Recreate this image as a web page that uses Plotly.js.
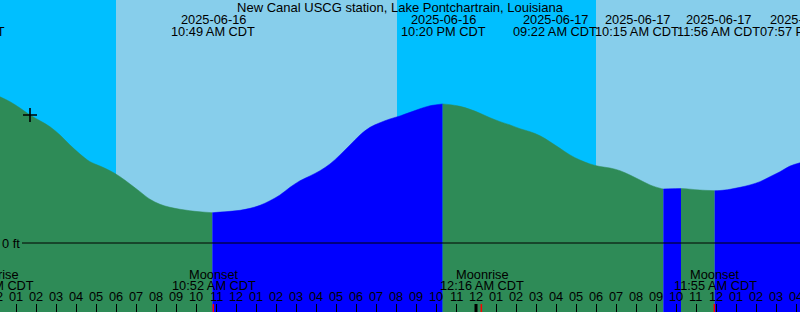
<!DOCTYPE html>
<html>
<head>
<meta charset="utf-8">
<script src="https://cdn.plot.ly/plotly-3.0.1.min.js"></script>
<style>html,body{margin:0;padding:0;background:#fff}#chart{width:800px;height:312px}</style>
</head>
<body>
<div id="chart"></div>
<script>
// ---- DATA (hours since 2025-06-16 00:00 CDT, water level in ft) ----
const tideHours = [0.2,0.7,1.2,1.7,2.2,2.7,3.2,3.7,4.2,4.7,5.2,5.7,6.2,6.7,7.2,7.7,8.2,8.7,9.2,9.7,10.2,10.817,11.2,11.7,12.2,12.7,13.2,13.7,14.2,14.7,15.2,15.7,16.2,16.7,17.2,17.7,18.2,18.7,19.2,19.7,20.2,20.7,21.2,21.7,22.333,22.7,23.2,23.7,24.2,24.7,25.2,25.7,26.2,26.7,27.2,27.7,28.2,28.7,29.2,29.7,30.2,30.7,31.2,31.7,32.2,32.7,33.2,33.367,33.8,34.25,34.7,35.2,35.933,36.2,36.7,37.2,37.7,38.2,38.7,39.2,39.7,40.2];
const tideFt = [0.975,0.942,0.900,0.853,0.815,0.775,0.720,0.653,0.593,0.542,0.513,0.482,0.442,0.393,0.342,0.291,0.258,0.238,0.225,0.215,0.208,0.202,0.206,0.211,0.218,0.231,0.251,0.282,0.320,0.371,0.415,0.447,0.482,0.527,0.587,0.653,0.720,0.771,0.802,0.827,0.847,0.871,0.895,0.915,0.927,0.922,0.911,0.891,0.865,0.835,0.809,0.787,0.762,0.742,0.715,0.675,0.631,0.587,0.553,0.527,0.510,0.500,0.482,0.453,0.420,0.387,0.365,0.360,0.362,0.363,0.359,0.353,0.349,0.350,0.358,0.371,0.387,0.409,0.442,0.475,0.513,0.535];

// high / low tide events
const extremaHours = [10.817, 22.333, 33.367, 34.25, 35.933];
const tideLabelDates = ["2025-06-15","2025-06-16","2025-06-16","2025-06-17","2025-06-17","2025-06-17","2025-06-17"];
const tideLabelTimes = ["10:32 PM CDT","10:49 AM CDT","10:20 PM CDT","09:22 AM CDT","10:15 AM CDT","11:56 AM CDT","07:57 PM CDT"];

// sun: daylight intervals
const sunriseHours = [6.0, 30.0];
const sunsetHours = [20.05, 44.1];

// moon events
const moonHours = [-0.25, 10.867, 24.267, 35.917];
const moonNames = ["Moonrise","Moonset","Moonrise","Moonset"];
const moonTimes = ["11:45 PM CDT","10:52 AM CDT","12:16 AM CDT","11:55 AM CDT"];

// current level marker
const nowHour = [1.7];
const nowFt = [0.853];

// hour ticks
const tickHours = [0,1,2,3,4,5,6,7,8,9,10,11,12,13,14,15,16,17,18,19,20,21,22,23,24,25,26,27,28,29,30,31,32,33,34,35,36,37,38,39,40];
const tickLabels = ["12","01","02","03","04","05","06","07","08","09","10","11","12","01","02","03","04","05","06","07","08","09","10","11","12","01","02","03","04","05","06","07","08","09","10","11","12","01","02","03","04"];
const midnightHours = [24];

// ---- LAYOUT / STYLE ----
const W = 800, H = 312;
const X0 = 0.2, X1 = 40.2;
const Y0 = -0.46, Y1 = 1.62;
const DAY = '#87CEEB', NIGHT = '#00BFFF', FLOOD = '#0000FF', EBB = '#2E8B57';
const FONT = {family: 'Liberation Sans, Arial, sans-serif', size: 12.8, color: '#000'};
const tideLabelPx = [-38, 213, 443, 555, 637, 718, 802];
const py = px => 1 - px / H;
const hx = h => (h - X0) / (X1 - X0);   // hour -> paper fraction (labels may sit past the edges)

// water segments split at extrema (curve filled down to the bottom of the chart)
const breaks = [X0].concat(extremaHours.filter(h => h > X0 && h < X1), [X1]);
const traces = [];
const shapes = [];
shapes.push({type: 'rect', xref: 'paper', yref: 'paper', x0: 0, x1: 1, y0: 0, y1: 1, fillcolor: NIGHT, line: {width: 0}, layer: 'below'});
sunriseHours.forEach((s, i) => {
  shapes.push({type: 'rect', xref: 'x', yref: 'paper', x0: s, x1: Math.min(sunsetHours[i], X1 + 1), y0: 0, y1: 1, fillcolor: DAY, line: {width: 0}, layer: 'below'});
});
for (let i = 0; i < breaks.length - 1; i++) {
  const a = breaks[i], b = breaks[i + 1];
  const sx = [], sy = [];
  tideHours.forEach((h, k) => { if (h >= a - 1e-9 && h <= b + 1e-9) { sx.push(h); sy.push(tideFt[k]); } });
  const rising = sy[sy.length - 1] > sy[0];
  const col = rising ? FLOOD : EBB;
  traces.push({x: sx, y: sy, mode: 'lines', line: {width: 0.5, color: col, shape: 'spline', smoothing: 1}, fill: 'tozeroy', fillcolor: col, hoverinfo: 'skip', showlegend: false});
  shapes.push({type: 'rect', xref: 'x', yref: 'y', x0: sx[0], x1: sx[sx.length - 1], y0: Y0 - 0.1, y1: 0.002, fillcolor: col, line: {width: 0}, layer: 'below'});
}
traces.push({x: nowHour, y: nowFt, mode: 'markers', marker: {symbol: 'cross-thin', size: 10, line: {width: 1.6, color: '#000'}}, hoverinfo: 'skip', showlegend: false});

shapes.push({type: 'line', xref: 'paper', yref: 'y', x0: 22 / W, x1: 1, y0: 0, y1: 0, line: {color: '#000', width: 1}, layer: 'above'});
midnightHours.forEach(h => shapes.push({type: 'line', xref: 'x', yref: 'paper', x0: h, x1: h, y0: 0, y1: 8 / H, line: {color: '#000', width: 3}, layer: 'above'}));
moonHours.filter(h => h > X0 && h < X1).forEach(h => shapes.push({type: 'line', xref: 'x', yref: 'paper', x0: h, x1: h, y0: 0, y1: 8 / H, line: {color: '#FF0000', width: 1.5}, layer: 'above'}));

const annotations = [];
const ann = (o) => Object.assign({showarrow: false, font: FONT, xanchor: 'center', yanchor: 'middle', borderpad: 0}, o);
tideLabelTimes.forEach((t, i) => {
  annotations.push(ann({xref: 'paper', yref: 'paper', x: tideLabelPx[i] / W, y: py(19.5), text: tideLabelDates[i]}));
  annotations.push(ann({xref: 'paper', yref: 'paper', x: tideLabelPx[i] / W, y: py(32), text: t}));
});
moonHours.forEach((h, i) => {
  annotations.push(ann({xref: 'paper', yref: 'paper', x: hx(h) + 1 / W, y: py(274), text: moonNames[i]}));
  annotations.push(ann({xref: 'paper', yref: 'paper', x: hx(h) + 1 / W, y: py(285.5), text: moonTimes[i]}));
});
tickHours.forEach((h, i) => annotations.push(ann({xref: 'paper', yref: 'paper', x: hx(h), y: py(296.5), text: tickLabels[i]})));
annotations.push(ann({xref: 'paper', yref: 'y', x: 20.5 / W, y: 0, xanchor: 'right', text: '0 ft'}));

const layout = {
  width: W, height: H,
  margin: {l: 0, r: 0, t: 0, b: 0, pad: 0},
  paper_bgcolor: NIGHT, plot_bgcolor: NIGHT,
  title: {text: 'New Canal USCG station, Lake Pontchartrain, Louisiana', font: {family: FONT.family, size: 13, color: '#000'}, x: 0.5, xanchor: 'center', y: py(7.5), yanchor: 'middle', yref: 'container'},
  xaxis: {range: [X0, X1], showgrid: false, zeroline: false, showline: false, ticks: 'inside', ticklen: 8, tickwidth: 1, tickcolor: '#000', tickmode: 'array', tickvals: tickHours, showticklabels: false, fixedrange: true},
  yaxis: {range: [Y0, Y1], visible: false, fixedrange: true},
  shapes: shapes,
  annotations: annotations,
  showlegend: false
};
Plotly.newPlot('chart', traces, layout, {displayModeBar: false, staticPlot: true});
</script>
</body>
</html>
